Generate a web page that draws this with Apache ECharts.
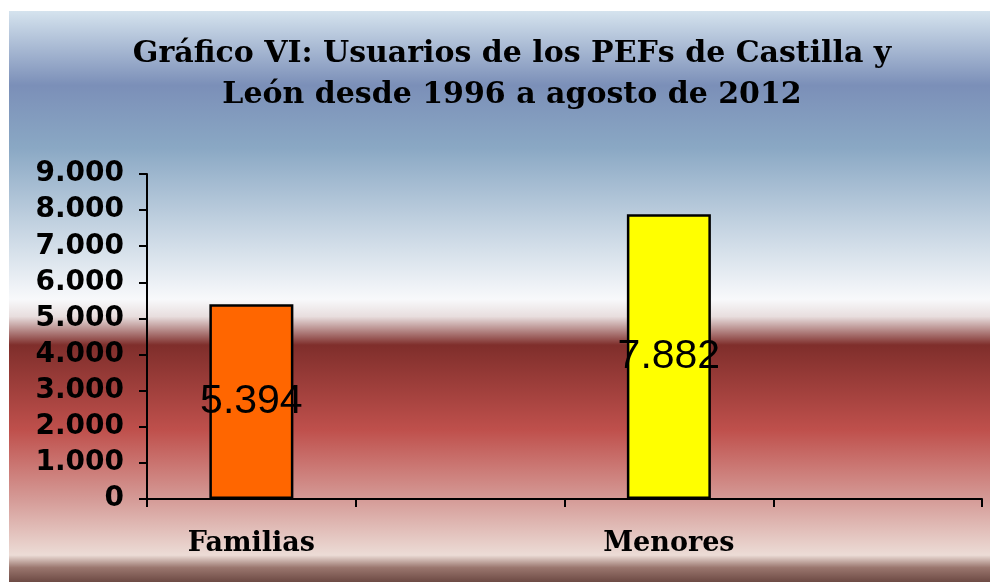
<!DOCTYPE html>
<html>
<head>
<meta charset="utf-8">
<script src="https://cdn.jsdelivr.net/npm/echarts@6/dist/echarts.min.js"></script>
<style>
html, body { margin: 0; padding: 0; background: #fff; }
#chart { position: absolute; left: 9px; top: 11px; width: 981px; height: 571px; }
</style>
</head>
<body>
<div id="chart"></div>
<script>
// datos
var categorias = ['Familias', '', 'Menores', ''];
var usuarios = [5394, null, 7882, null];
var coloresBarra = ['#ff6600', null, '#ffff00', null];

function miles(v) {
	return String(v).replace(/\B(?=(\d{3})+(?!\d))/g, '.');
}

var myChart = echarts.init(document.getElementById('chart'));
var option = {
	animation: false,
	backgroundColor: new echarts.graphic.LinearGradient(0, 0, 0, 1, [
		{offset: 0, color: '#d5e3ee'},
		{offset: 0.13, color: '#7b8fb8'},
		{offset: 0.24, color: '#8aa8c4'},
		{offset: 0.38, color: '#c5d4e2'},
		{offset: 0.505, color: '#f8f9fb'},
		{offset: 0.535, color: '#e8dede'},
		{offset: 0.585, color: '#7f2e2b'},
		{offset: 0.734, color: '#bf504c'},
		{offset: 0.856, color: '#d59b97'},
		{offset: 0.953, color: '#ecdcd6'},
		{offset: 0.975, color: '#9a766e'},
		{offset: 1, color: '#6d4a44'}
	]),
	title: {
		text: 'Gráfico VI: Usuarios de los PEFs de Castilla y\nLeón desde 1996 a agosto de 2012',
		left: 498,
		textAlign: 'center',
		top: 18,
		textStyle: {
			fontFamily: 'DejaVu Serif',
			fontWeight: 'bold',
			fontSize: 30,
			lineHeight: 41,
			color: '#000'
		}
	},
	grid: {left: 138, right: 8, top: 163, bottom: 83},
	xAxis: {
		type: 'category',
		data: categorias,
		axisLine: {lineStyle: {color: '#000', width: 2}},
		axisTick: {show: true, length: 8, lineStyle: {color: '#000', width: 2}},
		axisLabel: {
			margin: 31,
			fontFamily: 'DejaVu Serif',
			fontWeight: 'bold',
			fontSize: 27,
			color: '#000'
		}
	},
	yAxis: {
		type: 'value',
		min: 0,
		max: 9000,
		interval: 1000,
		axisLine: {show: true, lineStyle: {color: '#000', width: 2}},
		axisTick: {show: true, length: 8, lineStyle: {color: '#000', width: 2}},
		splitLine: {show: false},
		axisLabel: {
			margin: 23,
			fontFamily: 'DejaVu Sans',
			fontWeight: 'bold',
			fontSize: 28,
			color: '#000',
			formatter: miles
		}
	},
	series: [{
		type: 'bar',
		barWidth: 84,
		data: usuarios.map(function (v, i) {
			return {value: v, itemStyle: {color: coloresBarra[i]}};
		}),
		itemStyle: {borderColor: '#000', borderWidth: 2.5},
		label: {
			show: true,
			position: 'inside',
			fontFamily: 'Liberation Sans',
			fontSize: 41,
			color: '#000',
			formatter: function (p) { return miles(p.value); }
		}
	}]
};
myChart.setOption(option);
</script>
</body>
</html>
